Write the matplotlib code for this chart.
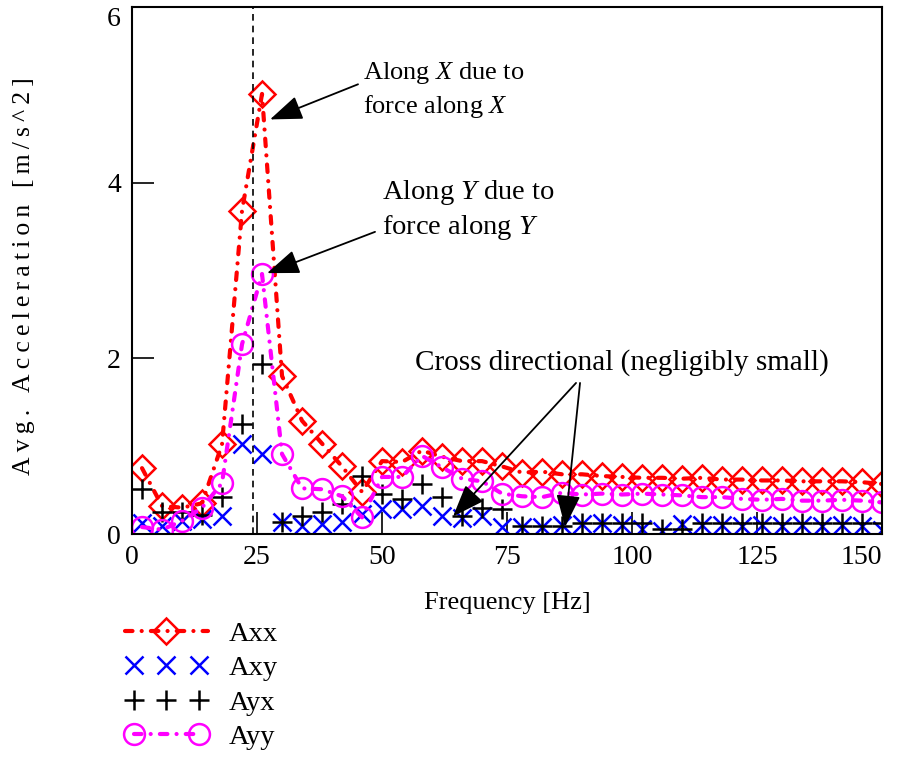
import numpy as np
import matplotlib
matplotlib.use("Agg")
import matplotlib.pyplot as plt
from matplotlib.legend_handler import HandlerLine2D

plt.rcParams["font.family"] = ["Liberation Serif", "DejaVu Serif"]
plt.rcParams["mathtext.fontset"] = "custom"
plt.rcParams["mathtext.rm"] = "Liberation Serif"
plt.rcParams["mathtext.it"] = "Liberation Serif:italic"
plt.rcParams["axes.linewidth"] = 1.5
plt.rcParams["xtick.direction"] = "in"
plt.rcParams["ytick.direction"] = "in"

# frequency grid [Hz]
freq = [2, 6, 10, 14, 18, 22, 26, 30, 34, 38, 42, 46, 50, 54, 58, 62, 66, 70, 74,
        78, 82, 86, 90, 94, 98, 102, 106, 110, 114, 118, 122, 126, 130, 134, 138,
        142, 146, 150]

# averaged acceleration [m/s^2]
axx = [0.75, 0.32, 0.30, 0.35, 1.02, 3.68, 5.01, 1.80, 1.29, 1.03, 0.77, 0.48,
       0.83, 0.82, 0.95, 0.88, 0.83, 0.83, 0.77, 0.70, 0.71, 0.68, 0.68, 0.66,
       0.65, 0.64, 0.64, 0.63, 0.64, 0.62, 0.62, 0.61, 0.61, 0.60, 0.60, 0.60,
       0.59, 0.57]
axy = [0.12, 0.09, 0.15, 0.17, 0.20, 1.02, 0.91, 0.14, 0.09, 0.11, 0.14, 0.23,
       0.28, 0.28, 0.32, 0.20, 0.18, 0.20, 0.08, 0.08, 0.08, 0.10, 0.11, 0.12,
       0.10, 0.06, 0.04, 0.11, 0.10, 0.10, 0.09, 0.10, 0.09, 0.10, 0.09, 0.10,
       0.09, 0.05]
ayx = [0.51, 0.25, 0.25, 0.22, 0.42, 1.25, 1.93, 0.14, 0.20, 0.25, 0.34, 0.66,
       0.46, 0.40, 0.57, 0.42, 0.20, 0.30, 0.28, 0.09, 0.09, 0.09, 0.12, 0.12,
       0.12, 0.12, 0.06, 0.06, 0.12, 0.12, 0.12, 0.12, 0.12, 0.12, 0.12, 0.12,
       0.12, 0.12]
ayy = [0.08, 0.05, 0.15, 0.30, 0.58, 2.16, 2.96, 0.91, 0.52, 0.51, 0.43, 0.19,
       0.65, 0.65, 0.89, 0.76, 0.63, 0.60, 0.46, 0.43, 0.42, 0.47, 0.45, 0.46,
       0.45, 0.46, 0.45, 0.44, 0.42, 0.42, 0.40, 0.39, 0.40, 0.38, 0.38, 0.39,
       0.38, 0.36]

resonance = 24.2

fig = plt.figure(figsize=(9.08, 7.59), dpi=100)
ax = fig.add_axes([0.1454, 0.2964, 0.8260, 0.6944])

dashdot = (0, (1.8, 2.2, 0.01, 2.2))

l1, = ax.plot(freq, axx, color="red", lw=3, linestyle=dashdot, dash_capstyle="round",
              marker="D", markersize=13.5, markerfacecolor="none", markeredgewidth=1.8,
              markeredgecolor="red", label="Axx")
l2, = ax.plot(freq, axy, color="blue", linestyle="none", marker="x", markersize=13,
              markeredgewidth=1.8, label="Axy")
l3, = ax.plot(freq, ayx, color="black", linestyle="none", marker="+", markersize=14,
              markeredgewidth=1.8, label="Ayx")
l4, = ax.plot(freq, ayy, color="magenta", lw=3, linestyle=dashdot, dash_capstyle="round",
              marker="o", markersize=15, markerfacecolor="none", markeredgewidth=1.8,
              markeredgecolor="magenta", label="Ayy")

ax.axvline(resonance, color="black", lw=1.2, linestyle=(0, (4, 3)))

ax.set_xlim(0, 150)
ax.set_ylim(0, 6)
ax.set_xticks([0, 25, 50, 75, 100, 125, 150])
ax.set_yticks([0, 2, 4, 6])
ax.tick_params(axis="both", which="major", labelsize=20, length=16, width=1.2, pad=8)
ax.get_xticklabels()[-1].set_horizontalalignment("right")
ax.get_yticklabels()[-1].set_verticalalignment("top")

ax.set_xlabel("Frequency [Hz]", fontsize=19, labelpad=16)
ylab = "\u2009".join("Avg. Acceleration [m/s^2]")
ax.set_ylabel(ylab, fontsize=18.5, labelpad=12)
ax.yaxis.set_label_coords(-0.13, 0.49)

arrow = dict(arrowstyle="-|>,head_length=0.8,head_width=0.3", color="black", lw=1.3,
             mutation_scale=25, shrinkA=0, shrinkB=0)

ax.annotate("", xy=(27.6, 4.72), xytext=(45.2, 5.12), arrowprops=arrow)
ax.text(46.2, 5.05, "Along $X$ due to\nforce along $X$", fontsize=19, ha="left",
        va="center", linespacing=1.35)

ax.annotate("", xy=(27.0, 2.97), xytext=(48.6, 3.44), arrowprops=arrow)
ax.text(50.0, 3.69, "Along $Y$ due to\nforce along $Y$", fontsize=20.5, ha="left",
        va="center", linespacing=1.3)

ax.text(56.6, 1.95, "Cross directional (negligibly small)", fontsize=21, ha="left",
        va="center")
ax.annotate("", xy=(64.2, 0.20), xytext=(88.8, 1.72), arrowprops=arrow)
ax.annotate("", xy=(86.6, 0.08), xytext=(89.6, 1.72), arrowprops=arrow)

fig.legend(handles=[l1, l2, l3, l4], loc="upper left", bbox_to_anchor=(0.1377, 0.182),
           frameon=False, fontsize=20.5, handlelength=2.9, handletextpad=0.75,
           labelspacing=0.3, borderpad=0, borderaxespad=0,
           handler_map={l1: HandlerLine2D(numpoints=1), l2: HandlerLine2D(numpoints=3),
                        l3: HandlerLine2D(numpoints=3), l4: HandlerLine2D(numpoints=2)})

fig.savefig("out.png", dpi=100)
